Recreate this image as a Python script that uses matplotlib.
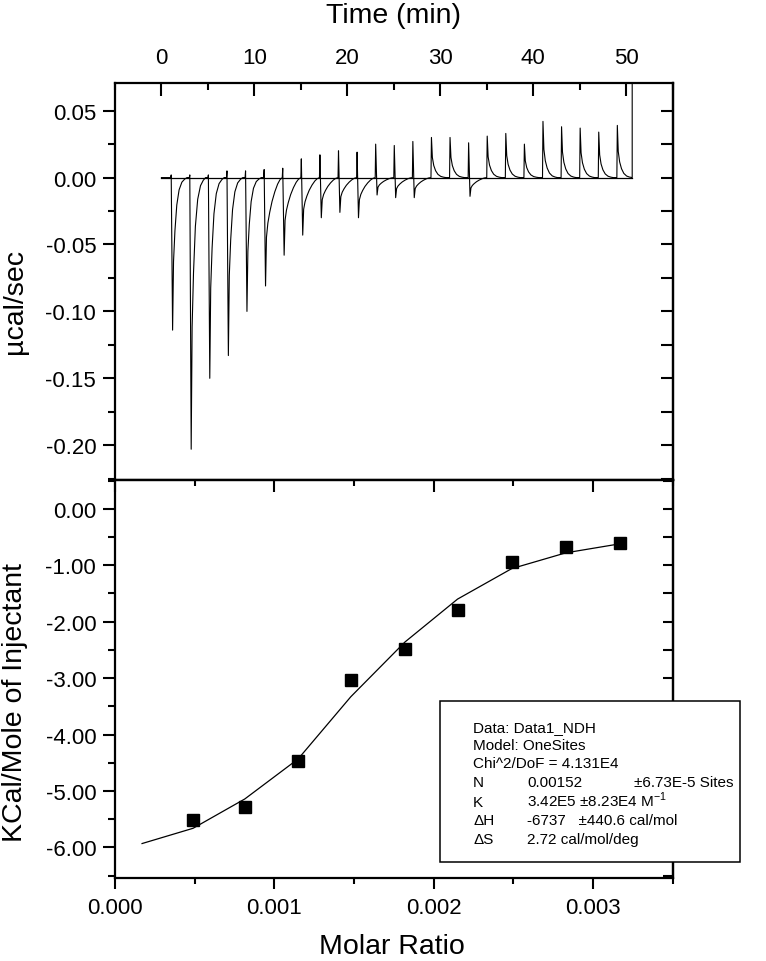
import matplotlib
matplotlib.use("Agg")
import matplotlib.pyplot as plt
from matplotlib.ticker import MultipleLocator, FormatStrFormatter, NullFormatter
from matplotlib.patches import Rectangle

plt.rcParams['font.family'] = ['Liberation Sans', 'DejaVu Sans']
plt.rcParams['axes.unicode_minus'] = False

# raw thermogram: one entry per injection (time in min, spike heights in ucal/sec)
inj_time = [1.05, 3.05, 5.05, 7.05, 9.05, 11.05, 13.05, 15.05, 17.05, 19.05,
            21.05, 23.05, 25.05, 27.05, 29.05, 31.05, 33.05, 35.05, 37.05, 39.05,
            41.05, 43.05, 45.05, 47.05, 49.05]
up_peak = [0.002, 0.002, 0.002, 0.005, 0.005, 0.006, 0.007, 0.014, 0.017, 0.020,
           0.019, 0.025, 0.024, 0.027, 0.030, 0.030, 0.026, 0.031, 0.033, 0.025,
           0.042, 0.038, 0.037, 0.034, 0.039]
down_peak = [-0.114, -0.203, -0.150, -0.133, -0.100, -0.081, -0.058, -0.043, -0.030, -0.026,
             -0.030, -0.013, -0.015, -0.015, 0.0, 0.0, -0.014, 0.0, 0.0, 0.0,
             0.0, 0.0, 0.0, 0.0, 0.0]
run_end = 50.65

# peak shapes (time after spike, fraction of spike height)
shape_off = [0.1, 0.25, 0.45, 0.7, 1.0, 1.3, 1.55]
fast_back = [0.55, 0.35, 0.18, 0.08, 0.03, 0.01, 0.0]
slow_back = [0.55, 0.42, 0.32, 0.22, 0.13, 0.06, 0.02]
up_back = [0.5, 0.3, 0.17, 0.08, 0.03, 0.01, 0.0]

# integrated heats
molar_ratio = [0.00049, 0.000815, 0.00115, 0.00148, 0.00182, 0.00215, 0.00249, 0.00283, 0.00317]
heat = [-5.51, -5.28, -4.46, -3.03, -2.49, -1.80, -0.94, -0.67, -0.60]

fit_x = [0.00017, 0.00049, 0.000815, 0.00115, 0.00148, 0.00182, 0.00215, 0.00249, 0.00283, 0.00317]
fit_y = [-5.93, -5.66, -5.14, -4.43, -3.33, -2.36, -1.60, -1.06, -0.78, -0.62]

fit_lines = [
    ("Data: Data1_NDH", None, None),
    ("Model: OneSites", None, None),
    ("Chi^2/DoF = 4.131E4", None, None),
    ("N", "0.00152", "±6.73E-5 Sites"),
    ("K", "3.42E5 ±8.23E4 M$^{\\mathregular{-1}}$", None),
    ("ΔH", "-6737   ±440.6 cal/mol", None),
    ("ΔS", "2.72 cal/mol/deg", None),
]


def build_trace():
    tx, ty = [0.0], [0.0]
    for t, u, d in zip(inj_time, up_peak, down_peak):
        tx += [t - 0.05, t]
        ty += [0.0, u]
        if d < -0.01:
            back = fast_back if d < -0.09 else slow_back
            tx.append(t + 0.15)
            ty.append(d)
            for o, f in zip(shape_off, back):
                tx.append(t + 0.15 + o)
                ty.append(d * f)
        else:
            for o, f in zip(shape_off, up_back):
                tx.append(t + o)
                ty.append(u * f)
    tx += [run_end, run_end]
    ty += [0.0, 0.09]
    return tx, ty


fig = plt.figure(figsize=(7.66, 9.62), dpi=100)
ax1 = fig.add_axes([0.1501, 0.5, 0.728, 0.4127])
ax2 = fig.add_axes([0.1501, 0.0863, 0.728, 0.4137])

tick_font = 16
label_font = 20.5

# ---- top panel: raw heat flow
tx, ty = build_trace()
ax1.plot(tx, ty, color='black', lw=0.8)
ax1.plot([0, run_end], [0, 0], color='black', lw=0.9)
ax1.set_xlim(-5, 55)
ax1.set_ylim(-0.226, 0.0707)
ax1.xaxis.tick_top()
ax1.xaxis.set_major_locator(MultipleLocator(10))
ax1.xaxis.set_minor_locator(MultipleLocator(5))
ax1.yaxis.set_major_locator(MultipleLocator(0.05))
ax1.yaxis.set_minor_locator(MultipleLocator(0.025))
ax1.yaxis.set_major_formatter(FormatStrFormatter('%.2f'))
ax1.tick_params(axis='x', which='major', direction='in', length=9, width=1.5,
                top=True, bottom=False, labeltop=True, labelbottom=False,
                pad=11, labelsize=tick_font)
ax1.tick_params(axis='x', which='minor', direction='in', length=5, width=1.5,
                top=True, bottom=False)
ax1.tick_params(axis='y', which='major', direction='out', length=8.5, width=1.5,
                right=False, pad=5, labelsize=tick_font)
ax1.tick_params(axis='y', which='minor', direction='out', length=5, width=1.5, right=False)

r1 = ax1.secondary_yaxis('right')
r1.yaxis.set_major_locator(MultipleLocator(0.025))
r1.yaxis.set_major_formatter(NullFormatter())
r1.tick_params(axis='y', which='both', direction='in', length=9, width=1.5)

# ---- bottom panel: integrated heats and fit
ax2.plot(fit_x, fit_y, color='black', lw=0.9)
ax2.plot(molar_ratio, heat, 's', color='black', markersize=9)
ax2.set_xlim(0, 0.0035)
ax2.set_ylim(-6.54, 0.51)
ax2.xaxis.set_major_locator(MultipleLocator(0.001))
ax2.xaxis.set_minor_locator(MultipleLocator(0.0005))
ax2.xaxis.set_major_formatter(FormatStrFormatter('%.3f'))
ax2.yaxis.set_major_locator(MultipleLocator(1.0))
ax2.yaxis.set_minor_locator(MultipleLocator(0.5))
ax2.yaxis.set_major_formatter(FormatStrFormatter('%.2f'))
ax2.tick_params(axis='x', which='major', direction='out', length=8, width=1.5,
                top=False, pad=6, labelsize=tick_font)
ax2.tick_params(axis='x', which='minor', direction='out', length=4.5, width=1.5, top=False)
ax2.tick_params(axis='y', which='major', direction='out', length=8.5, width=1.5,
                right=False, pad=5, labelsize=tick_font)
ax2.tick_params(axis='y', which='minor', direction='out', length=5, width=1.5, right=False)

t2 = ax2.secondary_xaxis('top')
t2.xaxis.set_major_locator(MultipleLocator(0.001))
t2.xaxis.set_minor_locator(MultipleLocator(0.0005))
t2.xaxis.set_major_formatter(NullFormatter())
t2.tick_params(axis='x', which='major', direction='in', length=8.5, width=1.5)
t2.tick_params(axis='x', which='minor', direction='in', length=4, width=1.5)

r2 = ax2.secondary_yaxis('right')
r2.yaxis.set_major_locator(MultipleLocator(0.5))
r2.yaxis.set_major_formatter(NullFormatter())
r2.tick_params(axis='y', which='both', direction='in', length=7.5, width=1.5)

for a in (ax1, ax2, r1, r2, t2):
    for s in a.spines.values():
        s.set_linewidth(1.6)

# axis titles
fig.text(394 / 766, 1 - 23 / 962, 'Time (min)', ha='center', va='baseline', fontsize=label_font)
fig.text(392 / 766, 1 - 954 / 962, 'Molar Ratio', ha='center', va='baseline', fontsize=label_font)
fig.text(15 / 766, 1 - 302 / 962, 'µcal/sec', rotation=90, ha='center', va='center', fontsize=label_font)
fig.text(15 / 766, 1 - 703 / 962, 'KCal/Mole of Injectant', rotation=90, ha='center', va='center',
         fontsize=label_font)

# fit results box
fig.add_artist(Rectangle((440 / 766, 1 - 863 / 962), 300 / 766, 161 / 962,
                         transform=fig.transFigure, fill=True, facecolor='white',
                         edgecolor='black', lw=1.1))
base_rows = [731.7, 750, 768.5, 787.5, 807, 825.5, 844.5]
for (c1, c2, c3), yb in zip(fit_lines, base_rows):
    fy = 1 - yb / 962
    fig.text(473 / 766, fy, c1, fontsize=11, va='baseline')
    if c2:
        fig.text(527 / 766, fy, c2, fontsize=11, va='baseline')
    if c3:
        fig.text(634 / 766, fy, c3, fontsize=11, va='baseline')

fig.savefig('out.png', dpi=100)
